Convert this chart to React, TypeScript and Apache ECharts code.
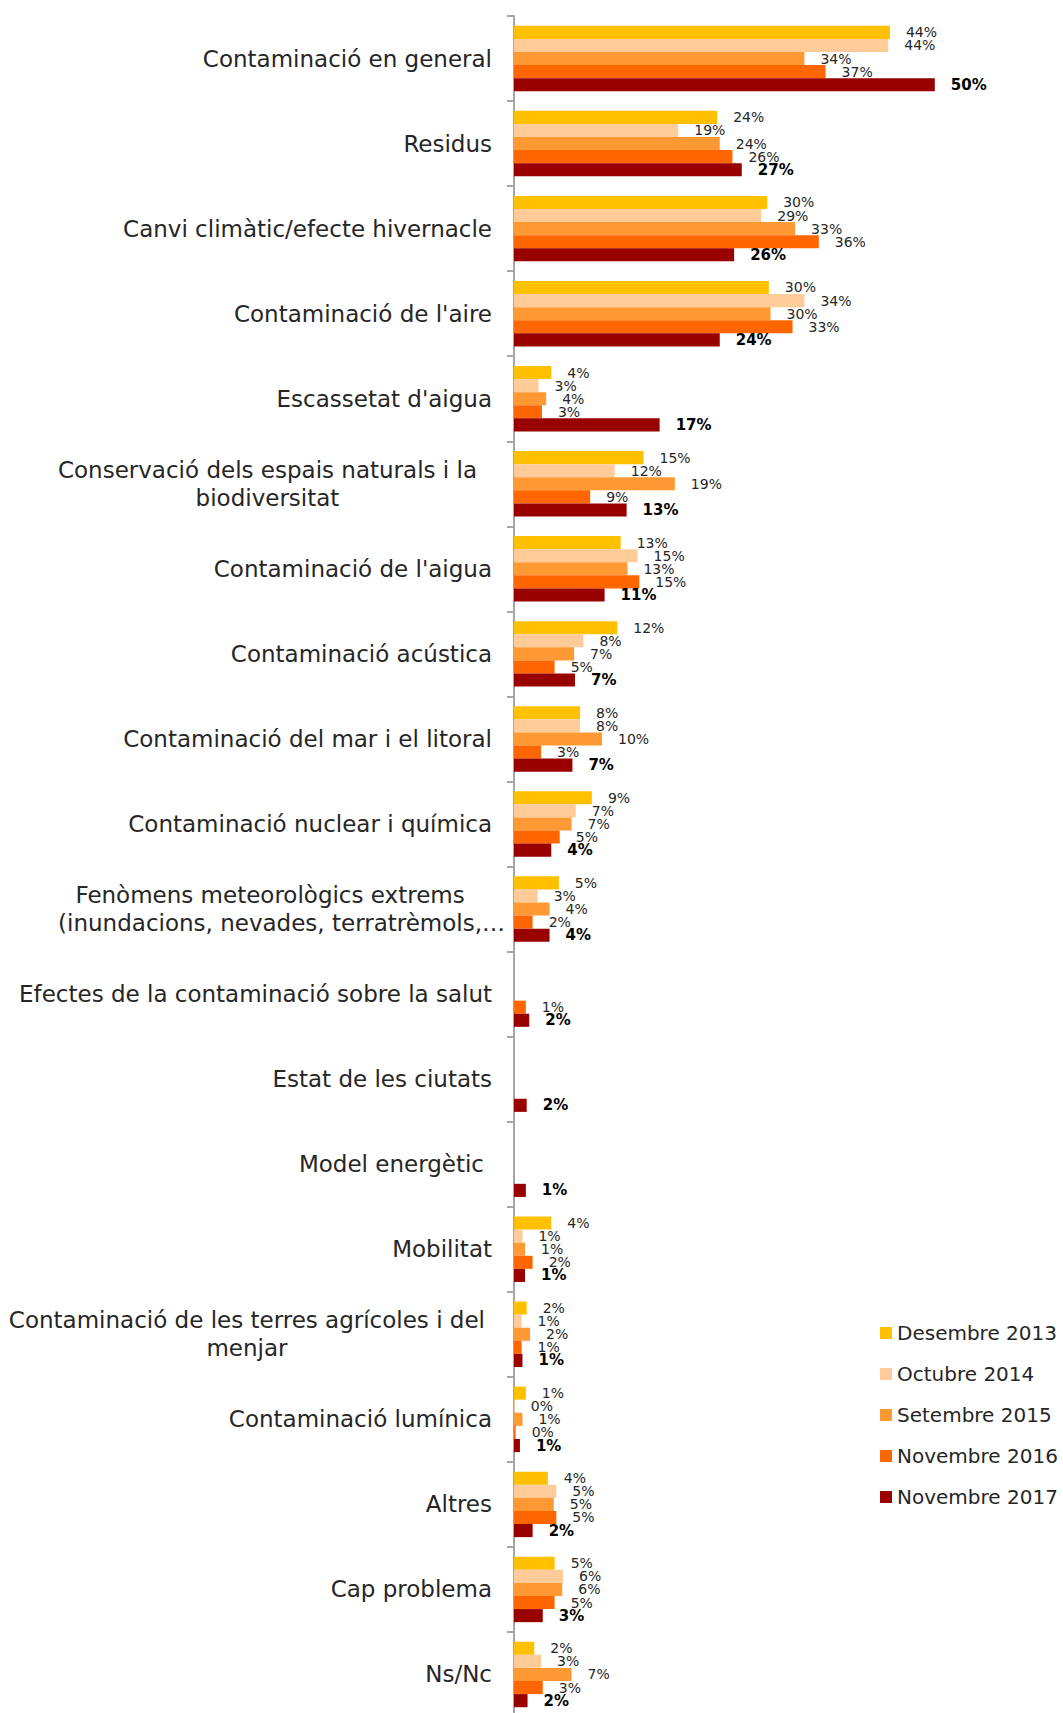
import React, { useEffect, useRef } from "react";
import * as echarts from "echarts";

const categories: string[] = [
  "Contaminació en general",
  "Residus",
  "Canvi climàtic/efecte hivernacle",
  "Contaminació de l'aire",
  "Escassetat d'aigua",
  "Conservació dels espais naturals i la\nbiodiversitat",
  "Contaminació de l'aigua",
  "Contaminació acústica",
  "Contaminació del mar i el litoral",
  "Contaminació nuclear i química",
  "Fenòmens meteorològics extrems\n(inundacions, nevades, terratrèmols,…",
  "Efectes de la contaminació sobre la salut",
  "Estat de les ciutats",
  "Model energètic",
  "Mobilitat",
  "Contaminació de les terres agrícoles i del\nmenjar",
  "Contaminació lumínica",
  "Altres",
  "Cap problema",
  "Ns/Nc",
];

const seriesNames: string[] = [
  "Desembre 2013",
  "Octubre 2014",
  "Setembre 2015",
  "Novembre 2016",
  "Novembre 2017",
];

const desembre2013: (number | null)[] = [44.4, 24.0, 29.9, 30.1, 4.4, 15.3, 12.6, 12.2, 7.8, 9.2, 5.3, null, null, null, 4.4, 1.5, 1.4, 4.0, 4.8, 2.4];
const octubre2014: (number | null)[] = [44.2, 19.4, 29.2, 34.3, 2.9, 11.9, 14.6, 8.2, 7.8, 7.3, 2.8, null, null, null, 1.0, 0.9, 0.1, 5.0, 5.8, 3.2];
const setembre2015: (number | null)[] = [34.3, 24.3, 33.2, 30.3, 3.8, 19.0, 13.4, 7.1, 10.4, 6.8, 4.2, null, null, null, 1.3, 1.9, 1.0, 4.7, 5.7, 6.8];
const novembre2016: (number | null)[] = [36.8, 25.8, 36.0, 32.9, 3.3, 9.0, 14.8, 4.8, 3.2, 5.4, 2.2, 1.4, null, null, 2.2, 0.9, 0.2, 5.0, 4.8, 3.4];
const novembre2017: (number | null)[] = [49.7, 26.9, 26.0, 24.3, 17.2, 13.3, 10.7, 7.2, 6.9, 4.4, 4.2, 1.8, 1.5, 1.4, 1.3, 1.0, 0.7, 2.2, 3.4, 1.6];

const seriesData = [desembre2013, octubre2014, setembre2015, novembre2016, novembre2017];
const colors = ["#FFC000", "#FFCC99", "#FF9933", "#FF6600", "#990000"];

const FONT = "DejaVu Sans";

export default function App() {
  const ref = useRef<HTMLDivElement>(null);

  useEffect(() => {
    if (!ref.current) return;
    const chart = echarts.init(ref.current, null, { renderer: "svg" });

    const tok = (pad: number) => ({
      align: "center",
      padding: [0, pad, 0, 0],
      fontFamily: FONT,
      fontSize: 23,
      color: "#262626",
      lineHeight: 28,
    });

    const labelFormatter = (value: string, index: number) => {
      const lines = value.split("\n");
      if (index === 10) {
        return `{f1|${lines[0]}}\n{f2|${lines[1]}}`;
      }
      let key = "c";
      if (index === 5) key = "k";
      else if (index === 13) key = "m";
      else if (index === 15) key = "t";
      return lines.map((l) => `{${key}|${l}}`).join("\n");
    };

    const series = seriesNames.map((name, i) => ({
      name,
      type: "bar",
      data: seriesData[i],
      barGap: "0%",
      barCategoryGap: "23%",
      itemStyle: { color: colors[i] },
      label: {
        show: true,
        position: "right",
        distance: 16,
        formatter: (p: any) => Math.round(p.value) + "%",
        fontFamily: FONT,
        fontSize: i === 4 ? 15 : 14,
        fontWeight: i === 4 ? "bold" : "normal",
        color: i === 4 ? "#000000" : "#262626",
      },
    }));

    chart.setOption({
      animation: false,
      backgroundColor: "#ffffff",
      grid: {
        left: 514,
        top: 16,
        width: 508,
        height: 1701,
        containLabel: false,
        outerBoundsMode: "none",
      },
      legend: {
        orient: "vertical",
        left: 875,
        top: 1318,
        padding: 5,
        itemWidth: 12,
        itemHeight: 12,
        itemGap: 21,
        icon: "rect",
        data: seriesNames,
        textStyle: { fontFamily: FONT, fontSize: 20, color: "#262626", lineHeight: 20 },
      },
      xAxis: {
        type: "value",
        min: 0,
        max: 60,
        show: false,
        splitLine: { show: false },
      },
      yAxis: {
        type: "category",
        inverse: true,
        data: categories,
        axisLine: { show: true, lineStyle: { color: "#A6A6A6", width: 2 } },
        axisTick: { show: true, length: 7, lineStyle: { color: "#A6A6A6", width: 2 } },
        axisLabel: {
          margin: 9,
          formatter: labelFormatter,
          rich: {
            c: tok(13),
            k: tok(28),
            m: tok(21),
            t: tok(20),
            f1: tok(23),
            f2: tok(0),
          },
        },
      },
      series,
    } as any);

    return () => chart.dispose();
  }, []);

  return (
    <div
      ref={ref}
      style={{ position: "absolute", left: 0, top: 0, width: 1063, height: 1713 }}
    />
  );
}
